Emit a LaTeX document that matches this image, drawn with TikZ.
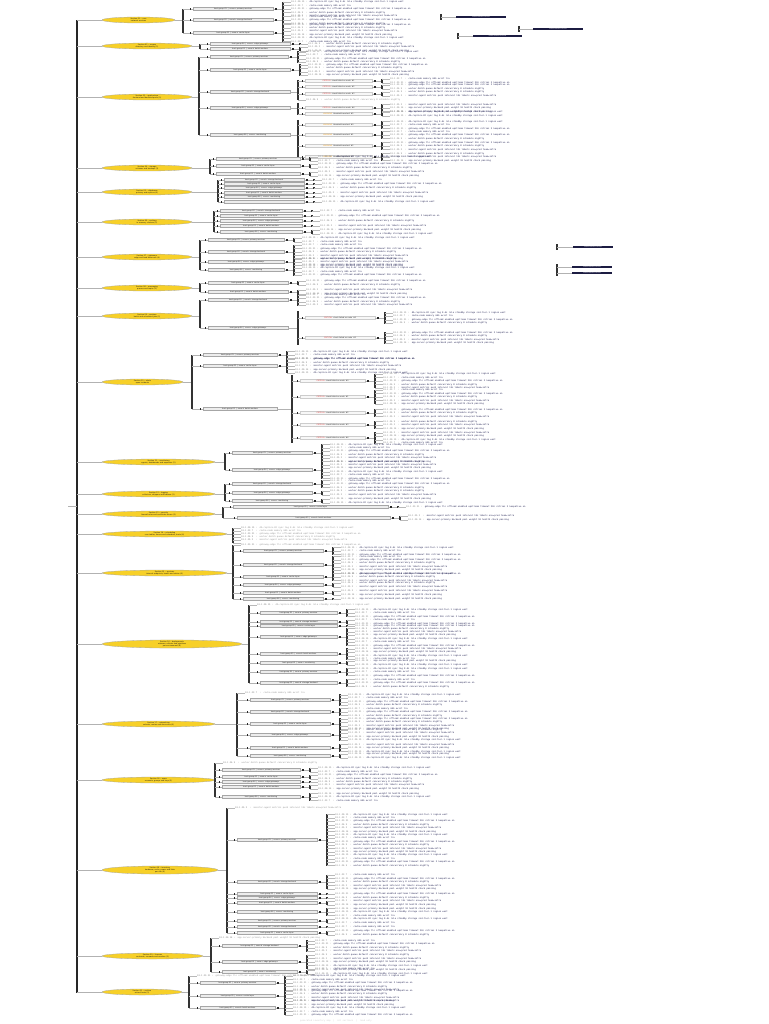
\documentclass[tikz,border=0pt]{standalone}
\usepackage{fontspec}
\usetikzlibrary{positioning,shapes.geometric}
\newfontfamily\leaffont{DejaVu Sans Mono}
\newfontfamily\boxfont{DejaVu Sans}

\definecolor{topicfill}{RGB}{247,208,40}
\definecolor{leafink}{RGB}{36,36,84}
\definecolor{darkbar}{RGB}{28,28,66}
\definecolor{alert}{RGB}{222,50,50}
\definecolor{warn}{RGB}{236,160,40}

\tikzset{
  topic/.style={ellipse, draw=gray!70, line width=0.3pt, fill=topicfill, minimum height=6pt,
    inner sep=0pt, font=\boxfont\fontsize{1.8}{2.0}\selectfont, align=center, text=black!90},
  entry/.style={rectangle, draw=gray!70, line width=0.3pt, fill=gray!14, minimum height=3pt,
    inner sep=0pt, font=\boxfont\fontsize{1.8}{2.0}\selectfont, text=black!85},
  subentry/.style={entry, fill=gray!6, draw=gray!40},
  subwarn/.style={entry, fill=gray!6, draw=gray!40},
  leaf/.style={anchor=west, inner sep=0pt, font=\leaffont\fontsize{2.2}{2.4}\selectfont, text=leafink},
  link/.style={draw=gray!60, line width=0.35pt},
  tick/.style={draw=gray!55, line width=0.3pt},
  bar/.style={draw=black!80, line width=1.1pt},
  trunk/.style={draw=black!85, line width=1.3pt},
  darkbox/.style={rectangle, fill=darkbar, minimum height=2.4pt, inner sep=0pt,
    font=\boxfont\fontsize{1.5}{1.7}\selectfont, text=white!85}
}

% text of the leaf lines
\newcommand{\leaftext}[1]{\ifcase#1
  \textcolor{gray}{10.1.20.14 :}\ \ app-server-primary backend pool weight 10 health check passing\or
  \textcolor{gray}{10.1.20.15 :}\ \ db-replica-02 sync lag 0.4s role standby storage ssd-tier-1 region west\or
  \textcolor{gray}{10.1.22.7\ \ :}\ \ cache-node memory 64G evict lru\or
  \textcolor{gray}{10.1.23.31 :}\ \ gateway-edge tls offload enabled upstream timeout 30s retries 3 keepalive on\or
  \textcolor{gray}{10.1.24.9\ \ :}\ \ worker-batch queue default concurrency 8 schedule nightly\or
  \textcolor{gray}{10.1.25.2\ \ :}\ \ monitor-agent metrics push interval 15s labels env=prod team=infra\fi}
\newcommand{\entrytext}[1]{\ifcase#1
  host-group-01\ \ \textbar\ \ zone-a\ \ primary services\or
  host-group-02\ \ \textbar\ \ zone-b\ \ storage backend\or
  host-group-03\ \ \textbar\ \ zone-a\ \ cache layer\or
  host-group-04\ \ \textbar\ \ zone-c\ \ edge gateways\or
  host-group-05\ \ \textbar\ \ zone-b\ \ batch workers\or
  host-group-06\ \ \textbar\ \ zone-c\ \ monitoring\fi}
\newcommand{\subentrytext}[1]{\textcolor{alert}{CRITICAL}\ \ check failed on node\ \ \#\number#1}
\newcommand{\subwarntext}[1]{\textcolor{warn}{WARNING}\ \ threshold reached\ \ \#\number#1}

% topic: name, y, right end, bracket x, bracket top, bracket bottom, label
\newcommand{\topic}[7]{%
  \pgfmathsetmacro\topw{#3-102}
  \node[topic, minimum width=\topw pt] (#1) at ({(102+#3)/2},#2) {#7};
  \coordinate (#1j) at (#4,#2);
  \draw[link] (trunktop |- #1.west) -- (#1.west);
  \draw[link] (#1.east) -- (#1j);
  \draw[bar] (#4,#5) -- (#4,#6);
}

% box: [style] name, bracket x, y, start x, width, lines, variant
\newcommand{\leafbox}[8][entry]{%
  \node[#1, minimum width=#6pt] (#2) at ({#5+#6/2},#4) {\csname #1text\endcsname{#8}};
  \draw[link] (#3,#4) -- (#2.west);
  \fill[black!85] ([xshift=-3pt]#2.west) ++(0,0.8pt) rectangle ++(1.4pt,-1.6pt);
  \ifnum#7>0
    \pgfmathsetmacro\lx{#5+#6+10}
    \coordinate (#2j) at (\lx,#4);
    \draw[link] (#2.east) -- (#2j);
    \fill[black!85] ([xshift=2pt]#2.east) ++(0,0.8pt) rectangle ++(1.4pt,-1.6pt);
    \pgfmathsetmacro\lh{(#7-1)*1.7}
    \draw[bar] (\lx,{#4-\lh-0.6}) -- (\lx,{#4+\lh+0.6});
    \foreach \j in {1,...,#7}{
      \pgfmathsetmacro\ly{#4+(\j-1)*3.4-\lh}
      \pgfmathtruncatemacro\vk{mod(\j+#8,6)}
      \node[leaf] (#2l\j) at (\lx+8,\ly) {\leaftext{\vk}};
      \draw[tick] (\lx,\ly) -- (#2l\j.west);
    }
  \fi
}

% single text line on a bracket: name, bracket x, y, variant
\newcommand{\topline}[4]{%
  \node[leaf, text=gray!85] (#1) at (#2+8,#3) {\leaftext{#4}};
  \draw[tick] (#2,#3) -- (#1.west);
}

% dark record: name, bracket x, y, start x, width
\newcommand{\darkrec}[5]{%
  \coordinate (#1j) at (#2,#3);
  \draw[bar] (#2,#3-3) -- (#2,#3+3);
  \node[darkbox, minimum width=#5pt] (#1) at ({#4+#5/2},#3) {linked reference record};
  \draw[link] (#1j) -- (#1.west);
}

\begin{document}
\begin{tikzpicture}[x=1pt, y=-1pt]
\useasboundingbox (0,0) rectangle (768,1024);

% Trunk
\coordinate (trunktop) at (77,20);
\coordinate (trunkbot) at (77,993);
\coordinate (root) at (68,506);
\draw[trunk] (trunktop) -- (trunkbot);
\draw[link] (root) -- (root -| trunktop);

% Group 1
\topic{t1}{20}{175}{183}{9}{33}{Section 01 -- core\\ network services}
\leafbox{t1b1}{183}{9}{193}{80}{5}{0}
\leafbox{t1b2}{183}{20}{193}{80}{3}{1}
\leafbox{t1b3}{183}{33}{193}{80}{6}{2}
\darkrec{t1d1}{441}{17}{456}{50}
\darkrec{t1d2}{519}{29}{533}{50}
\darkrec{t1d3}{458}{36}{473}{49}

% Group 2
\topic{t2}{46}{192}{200}{44}{49}{Section 02 -- access\\ directory and identity (2)}
\leafbox{t2b1}{200}{44}{210}{80}{1}{3}
\leafbox{t2b2}{200}{49}{210}{80}{2}{4}

% Group 3
\topic{t3}{97}{192}{199}{57}{135}{Section 03 -- applications\\ frontend and backend pools (5)}
\leafbox{t3b1}{199}{57}{210}{78}{4}{0}
\leafbox{t3b2}{199}{70}{210}{80}{4}{2}
\leafbox{t3b3}{199}{92}{210}{80}{0}{1}
\leafbox{t3b4}{199}{108}{210}{80}{0}{3}
\leafbox{t3b5}{199}{135}{210}{80}{0}{5}
\draw[link] (t3b3.east) -- (298,92);
\draw[bar] (298,80) -- (298,100);
\leafbox[subentry]{t3s1}{298}{81}{305}{67}{2}{1}
\leafbox[subentry]{t3s2}{298}{87}{305}{67}{2}{2}
\leafbox[subentry]{t3s3}{298}{94}{305}{67}{2}{3}
\topline{t3n1}{298}{100}{4}
\draw[link] (t3b4.east) -- (298,108);
\draw[bar] (298,103) -- (298,115);
\leafbox[subentry]{t3s4}{298}{108}{305}{67}{3}{4}
\leafbox[subwarn]{t3s5}{298}{114}{305}{67}{2}{5}
\draw[link] (t3b5.east) -- (298,135);
\draw[bar] (298,120) -- (298,160);
\leafbox[subwarn]{t3s6}{298}{125}{305}{67}{3}{0}
\leafbox[subwarn]{t3s7}{298}{135}{305}{67}{3}{1}
\leafbox[subwarn]{t3s8}{298}{146}{305}{67}{3}{2}
\leafbox[subwarn]{t3s9}{298}{157}{305}{67}{3}{3}

% Group 4
\topic{t4}{168}{192}{210}{159}{174}{Section 04 -- storage\\ volumes and backups (3)}
\leafbox{t4b1}{210}{159}{216}{84}{2}{0}
\leafbox{t4b2}{210}{166}{216}{84}{2}{2}
\leafbox{t4b3}{210}{174}{216}{84}{2}{4}

% Group 5
\topic{t5}{192}{192}{218}{180}{202}{Section 05 -- databases\\ primary and replicas (6)}
\foreach \i/\y in {1/180,2/184,3/188,4/193,5/197,6/202}{
  \leafbox{t5b\i}{218}{\y}{224}{80}{1}{\i}
}

% Group 6
\topic{t6}{222}{192}{214}{211}{232}{Section 06 -- caching\\ in-memory clusters (5)}
\foreach \i/\y in {1/211,2/216,3/221,4/226}{
  \leafbox{t6b\i}{214}{\y}{220}{82}{1}{\i}
}
\leafbox{t6b5}{214}{232}{220}{82}{2}{5}

% Group 7
\topic{t7}{257}{192}{200}{240}{270}{Section 07 -- gateways\\ edge and load balancers (4)}
\leafbox{t7b1}{200}{240}{208}{76}{2}{0}
\leafbox{t7b2}{200}{252}{208}{76}{5}{1}
\leafbox{t7b3}{200}{262}{208}{76}{3}{3}
\leafbox{t7b4}{200}{270}{208}{76}{4}{5}
\darkrec{t7d1}{557}{247}{573}{40}
\darkrec{t7d2}{557}{267}{572}{40}
\darkrec{t7d3}{557}{273}{572}{40}

% Group 8
\topic{t8}{288}{192}{200}{283}{292}{Section 08 -- messaging\\ queues and topics (2)}
\leafbox{t8b1}{200}{283}{208}{80}{2}{2}
\leafbox{t8b2}{200}{292}{208}{80}{2}{4}

% Group 9
\topic{t9}{316}{192}{200}{300}{328}{Section 09 -- workers\\ batch and scheduled jobs (2)}
\leafbox{t9b1}{200}{300}{208}{80}{4}{1}
\leafbox{t9b2}{200}{328}{208}{80}{0}{3}
\draw[link] (t9b2.east) -- (298,328);
\draw[bar] (298,311) -- (298,345);
\leafbox[subentry]{t9s1}{298}{318}{305}{70}{4}{0}
\leafbox[subentry]{t9s2}{298}{338}{305}{70}{4}{2}

% Group 10
\topic{t10}{382}{183}{192}{355}{409}{Section 10 -- alerts\\ open incidents}
\leafbox{t10b1}{192}{355}{203}{74}{3}{0}
\leafbox{t10b2}{192}{366}{203}{74}{5}{2}
\leafbox{t10b3}{192}{409}{203}{74}{0}{4}
\draw[link] (t10b3.east) -- (292,409);
\draw[bar] (292,375) -- (292,443);
\leafbox[subentry]{t10s1}{292}{381}{300}{65}{5}{0}
\leafbox[subentry]{t10s2}{292}{397}{300}{65}{5}{1}
\leafbox[subentry]{t10s3}{292}{413}{300}{65}{3}{2}
\leafbox[subentry]{t10s4}{292}{425}{300}{65}{3}{3}
\leafbox[subentry]{t10s5}{292}{438}{300}{65}{4}{4}

% Group 11
\topic{t11}{462}{215}{225}{453}{470}{Section 11 -- monitoring\\ agents, dashboards and exporters (2)}
\leafbox{t11b1}{225}{453}{232}{80}{6}{0}
\leafbox{t11b2}{225}{470}{232}{80}{6}{3}

% Group 12
\topic{t12}{494}{215}{225}{484}{501}{Section 12 -- logging\\ collectors, shippers and indexes (3)}
\leafbox{t12b1}{225}{484}{232}{80}{3}{1}
\leafbox{t12b2}{225}{493}{232}{80}{2}{3}
\leafbox{t12b3}{225}{501}{232}{80}{2}{5}

% Group 13
\topic{t13}{514}{215}{223}{507}{518}{Section 13 -- security\\ firewall rules and certificate stores (2)}
\leafbox{t13b1}{223}{507}{233}{155}{1}{2}
\leafbox{t13b2}{223}{518}{237}{153}{2}{4}

% Group 14
\topic{t14}{534}{227}{233}{528}{543}{Section 14 -- scheduling\\ cron tables, timers and calendars, hosts (6)}
\foreach \i/\y in {1/528,2/531,3/534,4/537,5/540,6/543}{
  \topline{t14n\i}{233}{\y}{\i}
}

% Group 15
\topic{t15}{573}{227}{233}{545}{599}{Section 15 -- services\\ internal endpoints, health and status (6)}
\topline{t15n1}{233}{545}{3}
\leafbox{t15b1}{233}{551}{243}{80}{3}{0}
\leafbox{t15b2}{233}{565}{243}{80}{6}{1}
\leafbox{t15b3}{233}{577}{243}{80}{3}{2}
\leafbox{t15b4}{233}{585}{243}{80}{2}{3}
\leafbox{t15b5}{233}{593}{243}{80}{2}{4}
\leafbox{t15b6}{233}{599}{243}{80}{1}{5}

% Group 16
\topic{t16}{644}{242}{249}{605}{683}{Section 16 -- deployments\\ releases, rollouts and pipelines\\ per environment (8)}
\topline{t16n1}{249}{605}{1}
\leafbox{t16b1}{249}{613}{260}{77}{3}{0}
\leafbox{t16b2}{249}{622}{260}{77}{2}{1}
\leafbox{t16b3}{249}{626}{260}{77}{1}{2}
\leafbox{t16b4}{249}{637}{260}{77}{6}{3}
\leafbox{t16b5}{249}{654}{260}{77}{4}{4}
\leafbox{t16b6}{249}{663}{260}{77}{2}{5}
\leafbox{t16b7}{249}{672}{260}{77}{3}{0}
\leafbox{t16b8}{249}{683}{260}{77}{3}{1}

% Group 17
\topic{t17}{724}{215}{237}{693}{756}{Section 17 -- networking\\ subnets, routes and dns zones (6)}
\topline{t17n1}{237}{693}{2}
\leafbox{t17b1}{237}{700}{250}{80}{4}{0}
\leafbox{t17b2}{237}{712}{250}{80}{3}{1}
\leafbox{t17b3}{237}{724}{250}{80}{4}{2}
\leafbox{t17b4}{237}{735}{250}{80}{4}{3}
\leafbox{t17b5}{237}{748}{250}{80}{3}{4}
\leafbox{t17b6}{237}{756}{250}{80}{2}{5}

% Group 18
\topic{t18}{780}{215}{215}{763}{797}{Section 18 -- users\\ accounts, groups and keys (5)}
\topline{t18n1}{215}{763}{4}
\leafbox{t18b1}{215}{770}{222}{78}{2}{0}
\leafbox{t18b2}{215}{777}{222}{78}{2}{2}
\leafbox{t18b3}{215}{782}{222}{78}{1}{3}
\leafbox{t18b4}{215}{787}{222}{78}{2}{4}
\leafbox{t18b5}{215}{797}{222}{78}{3}{5}

% Group 19
\topic{t19}{870}{218}{227}{808}{933}{Section 19 -- inventory\\ hardware, racks, power and links\\ per site (9)}
\topline{t19n1}{227}{808}{5}
\leafbox{t19b1}{227}{840}{237}{80}{16}{0}
\leafbox{t19b2}{227}{882}{237}{80}{5}{1}
\leafbox{t19b3}{227}{894}{237}{80}{1}{2}
\leafbox{t19b4}{227}{898}{237}{80}{1}{3}
\leafbox{t19b5}{227}{903}{237}{80}{2}{4}
\leafbox{t19b6}{227}{912}{237}{80}{3}{5}
\leafbox{t19b7}{227}{921}{237}{80}{2}{0}
\leafbox{t19b8}{227}{927}{237}{80}{1}{1}
\leafbox{t19b9}{227}{933}{237}{80}{2}{2}

% Group 20
\topic{t20}{956}{203}{211}{938}{972}{Section 20 -- licences\\ contracts, renewals and vendors (3)}
\topline{t20n1}{211}{938}{0}
\leafbox{t20b1}{211}{946}{222}{75}{4}{1}
\leafbox{t20b2}{211}{962}{222}{75}{5}{3}
\leafbox{t20b3}{211}{972}{222}{75}{2}{5}

% Group 21
\topic{t21}{992}{182}{189}{976}{1008}{Section 21 -- archive\\ retired hosts (3)}
\topline{t21n1}{189}{976}{3}
\leafbox{t21b1}{189}{983}{200}{75}{5}{0}
\leafbox{t21b2}{189}{996}{200}{75}{4}{2}
\leafbox{t21b3}{189}{1008}{200}{75}{5}{4}

% Footer
\node[leaf, text=gray!40] (foot) at (300,1021) {generated inventory map \ \textbar\ \ all sections \ \textbar\ \ read only};

\end{tikzpicture}
\end{document}
